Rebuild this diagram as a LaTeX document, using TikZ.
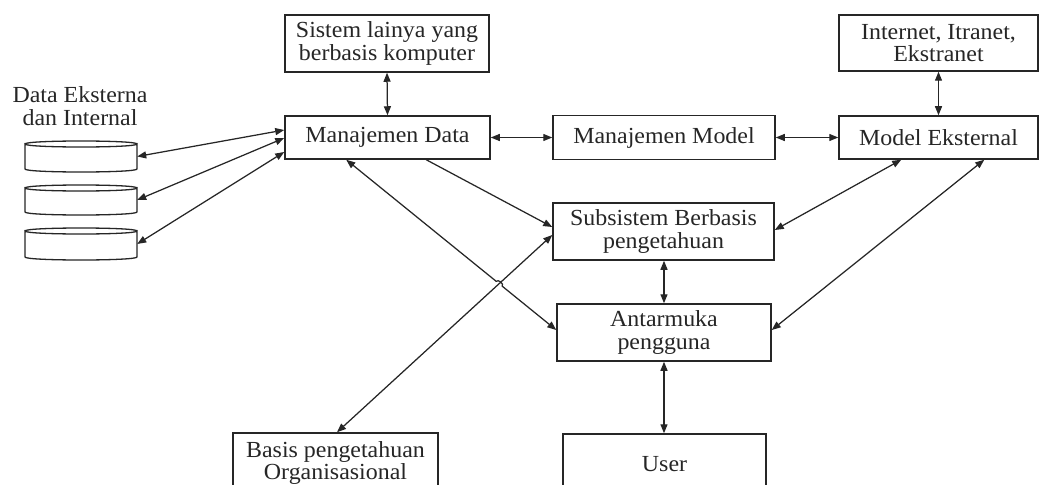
\documentclass[tikz,border=0pt]{standalone}
\usepackage{fontspec}
\setmainfont[FakeStretch=1.04]{Liberation Serif}
\usetikzlibrary{arrows.meta,calc}
\definecolor{ink}{HTML}{262626}
\tikzset{
  box/.style={draw=ink, line width=1.5pt, fill=white, align=center, inner sep=0pt,
    text=ink, font=\fontsize{23}{22.5}\selectfont},
  conn/.style={draw=ink, line width=1.25pt, {Triangle[length=9pt,width=7pt]}-{Triangle[length=9pt,width=7pt]}},
  oneway/.style={draw=ink, line width=1.25pt, -{Triangle[length=9pt,width=7pt]}},
  cyl/.style={draw=ink, line width=1.3pt},
  ghost/.style={inner sep=0pt, minimum width=112pt, minimum height=25pt}
}
\begin{document}
\begin{tikzpicture}[x=1pt,y=-1pt]
\useasboundingbox (0,0) rectangle (1040,484);
\clip (0,0) rectangle (1040,484);

% boxes
\node[box, minimum width=204pt, minimum height=57pt] (sis) at (387,43.5) {Sistem lainya yang\\berbasis komputer};
\node[box, minimum width=205pt, minimum height=43pt] (md) at (387.5,137.5) {Manajemen Data};
\node[box, minimum width=222pt, minimum height=44pt] (mm) at (664,137.5) {Manajemen Model};
\node[box, minimum width=199pt, minimum height=43pt] (me) at (938.5,137.5) {Model Eksternal};
\node[box, minimum width=199pt, minimum height=56pt] (inet) at (938.5,43) {Internet, Itranet,\\Ekstranet};
\node[box, minimum width=221pt, minimum height=57pt] (sub) at (663.5,231.5) {Subsistem Berbasis\\pengetahuan};
\node[box, minimum width=214pt, minimum height=57pt] (am) at (664,332.5) {Antarmuka\\pengguna};
\node[box, minimum width=203pt, minimum height=60pt] (user) at (664.5,464) {User};
\node[box, minimum width=205pt, minimum height=60pt] (basis) at (335.5,463) {Basis pengetahuan\\Organisasional};

% data label
\node[align=center, inner sep=0pt, text=ink, font=\fontsize{23}{22.5}\selectfont] (dlabel) at (80,106) {Data Eksterna\\dan Internal};

% cylinders
\foreach \t/\b/\n in {144/169/c1, 188/212/c2, 231/257/c3}{
  \draw[cyl, fill=white] (25,\t) -- (25,\b) .. controls (25,\b+4) and (137,\b+4) .. (137,\b) -- (137,\t)
     .. controls (137,\t+4) and (25,\t+4) .. (25,\t) -- cycle;
  \draw[cyl] (25,\t) .. controls (25,\t-4) and (137,\t-4) .. (137,\t);
  \node[ghost] (\n) at (81,{(\t+\b)/2}) {};
}

% connectors
\draw[conn] (c1.east) -- ($(md.west)+(0,-7.5)$);
\draw[conn] (c2.east) -- ($(md.west)+(0,0.5)$);
\draw[conn] (c3.east) -- ($(md.west)+(0,14.5)$);

\draw[conn] (sis.south) -- (md.north);
\draw[conn] (md.east) -- (mm.west);
\draw[conn] (mm.east) -- (me.west);
\draw[conn] (inet.south) -- (me.north);

\coordinate (mdA) at ($(md.south west)+(62,0)$);
\coordinate (mdB) at ($(md.south west)+(142,0)$);
\coordinate (subA) at ($(sub.west)+(0,-4.5)$);
\coordinate (subB) at ($(sub.west)+(0,3.5)$);
\coordinate (amW) at ($(am.west)+(0,-2.5)$);
\coordinate (meA) at ($(me.south west)+(63,0)$);
\coordinate (meB) at ($(me.south west)+(146,0)$);
\coordinate (subE) at ($(sub.east)+(0,-1.5)$);
\coordinate (amE) at ($(am.east)+(0,-2.5)$);

\draw[oneway] (mdB) -- (subA);
\draw[conn] (mdA) -- ($(mdA)!0.714!(amW)$) to[bend left=90] ($(mdA)!0.743!(amW)$) -- (amW);
\draw[conn] ($(basis.north)+(1.5,0)$) -- (subB);
\draw[conn] (subE) -- (meA);
\draw[conn] (amE) -- (meB);
\draw[conn] (sub.south -| am.north) -- (am.north);
\draw[conn] (am.south) -- (user.north -| am.south);
\end{tikzpicture}
\end{document}
